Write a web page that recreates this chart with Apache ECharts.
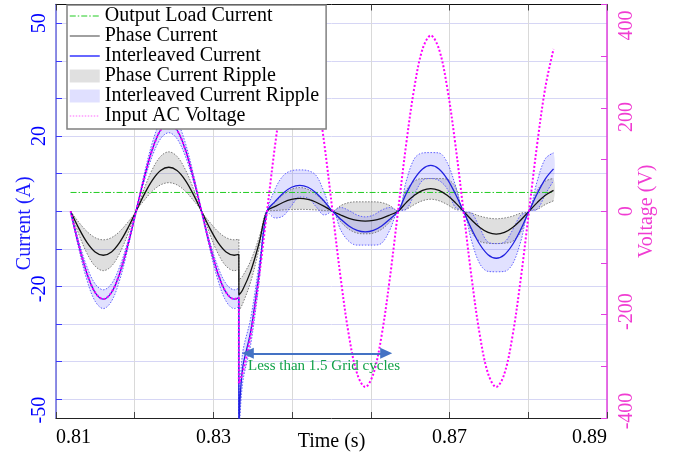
<!DOCTYPE html>
<html><head><meta charset="utf-8">
<script src="https://cdn.jsdelivr.net/npm/echarts@6/dist/echarts.min.js"></script>
<style>html,body{margin:0;padding:0;background:#fff}#c{width:679px;height:457px}</style>
</head><body><div id="c"></div>
<script>
// ---- data ----
const time = [0.81185,0.81289,0.81393,0.81497,0.81601,0.81705,0.81809,0.81913,0.82017,0.82121,0.82225,0.82329,0.82433,0.82537,0.82641,0.82745,0.82849,0.82953,0.83057,0.83161,0.83265,
0.83323,0.83323,
0.83369,0.83473,0.83577,0.83681,
0.83785,0.83889,0.83993,0.84097,0.84201,0.84305,0.84409,0.84513,
0.84617,0.84721,0.84825,0.84929,0.85033,0.85137,0.85241,0.85345,
0.85449,0.85553,0.85657,0.85761,0.85865,0.85969,0.86073,0.86177,
0.86281,0.86385,0.86489,0.86593,0.86697,0.86801,0.86905,0.87009,
0.87113,0.87217,0.87321];
const phaseCurrent = [0,-4.48,-8.27,-10.81,-11.7,-10.81,-8.27,-4.48,0,4.48,8.27,10.81,11.7,10.81,8.27,4.48,0,-4.48,-8.27,-10.81,-11.7,
-11.5,-22.3,
-21.0,-16.0,-8.7,0,
1.3,2.4,3.14,3.4,3.14,2.4,1.3,0,
-1.0,-1.87,-2.45,-2.65,-2.45,-1.87,-1.0,0,
2.3,4.24,5.54,6.0,5.54,4.24,2.3,0,
-2.34,-4.31,-5.64,-6.1,-5.64,-4.31,-2.34,0,
2.3,4.24,5.54];
const interleavedCurrent = [0,-8.96,-16.54,-21.62,-23.4,-21.62,-16.54,-8.96,0,8.96,16.54,21.62,23.4,21.62,16.54,8.96,0,-8.96,-16.54,-21.62,-23.4,
-22.96,-58,
-42,-32,-17,0,
2.64,4.88,6.38,6.9,6.38,4.88,2.64,0,
-2.1,-3.9,-5.1,-5.5,-5.1,-3.9,-2.1,0,
4.67,8.63,11.27,12.2,11.27,8.63,4.67,0,
-4.79,-8.84,-11.55,-12.5,-11.55,-8.84,-4.79,0,
4.67,8.63,11.27];
const inputVoltage = [0,-65,-120,-157,-170,-157,-120,-65,0,65,120,157,170,157,120,65,0,-65,-120,-157,-170,
-167,-333,
-314,-240,-130,0,
130,240,314,340,314,240,130,0,
-130,-240,-314,-340,-314,-240,-130,0,
130,240,314,340,314,240,130,0,
-130,-240,-314,-340,-314,-240,-130,0,
130,240,314];
const phaseRippleLow = [0,-6.05,-11.17,-14.6,-15.8,-14.6,-11.17,-6.05,0,2.91,5.37,7.02,7.6,7.02,5.37,2.91,0,-6.05,-11.17,-14.6,-15.8,
-15.5,-26.5,
-24.7,-18.8,-10.2,0,
0.19,0.35,0.46,0.5,0.46,0.35,0.19,0,
-2.8,-4.8,-5.8,-6.0,-5.8,-4.8,-2.8,0,
0.5,1.8,2.8,3.2,2.8,1.8,0.5,0,
-5.5,-8.0,-8.5,-8.6,-8.5,-8.0,-5.5,0,
0.5,1.8,2.8];
const phaseRippleHigh = [0,-2.91,-5.37,-7.02,-7.6,-7.02,-5.37,-2.91,0,6.05,11.17,14.6,15.8,14.6,11.17,6.05,0,-2.91,-5.37,-7.02,-7.6,
-7.46,-18.3,
-17.3,-13.2,-7.2,0,
2.41,4.45,5.82,6.3,5.82,4.45,2.41,0,
1.5,2.3,2.5,2.5,2.5,2.3,1.5,0,
5.5,8.0,8.7,8.7,8.7,8.5,6.5,0,
-0.5,-1.3,-1.8,-2.0,-1.8,-1.3,-0.5,0,
5.5,8.0,8.7];
const interRippleLow = [0,-9.92,-18.31,-23.93,-25.9,-23.93,-18.31,-9.92,0,8.0,14.78,19.31,20.9,19.31,14.78,8.0,0,-9.92,-18.31,-23.93,-25.9,
-25.41,-62,
-46,-35.5,-19.5,0,
-1.8,-1.2,1.5,3.8,3.5,1.2,-1.0,0,
-5,-8,-9,-9,-9,-8.5,-5,0,
0.5,4.5,8.2,8.7,8.2,6,1,0,
-8,-14,-16,-16.1,-16,-14,-8,0,
0.5,4.5,8.2];
const interRippleHigh = [0,-8.0,-14.78,-19.31,-20.9,-19.31,-14.78,-8.0,0,9.92,18.31,23.93,25.9,23.93,18.31,9.92,0,-8.0,-14.78,-19.31,-20.9,
-20.5,-54,
-38,-28.5,-14.5,0,
6,9.5,10.8,11,10.8,9.5,5,0,
1.0,0.2,-1.0,-1.5,-1.0,0.3,1.0,0,
8,14,15.5,15.6,15.5,13,7,0,
-0.5,-4.5,-8.2,-8.6,-8.2,-5,-1,0,
8,14,15.5];
const loadTime = [0.81185, 0.87321];
const loadCurrent = [5.0, 5.0];
const xTickLabels = ['0.81','','0.83','','','0.87','','0.89'];
const leftTickValues = [-50,-40,-30,-20,-10,0,10,20,30,40,50];
const leftLabelValues = [50,20,-20,-50];
const rightLabelValues = [400,200,0,-200,-400];
const arrowSpan = [0.83437, 0.85195];
const arrowLevel = -37.8;
const annotationText = 'Less than 1.5 Grid cycles';

// ---- styling ----
const FONT = 'Liberation Serif';
const leftLabelPad = {'50':[0,0,0,0], '20':[0,0,0,0], '-20':[0,5,0,0], '-50':[0,22,0,0]};
const rightLabelPad = {'400':[0,42,0,0], '200':[0,18,0,0], '0':[0,0,0,0], '-200':[0,0,0,6], '-400':[0,0,0,14]};
const LEFT_COLOR = '#0000ff', RIGHT_COLOR = '#f03cd2';
function richFor(values, pads, color) {
  const r = {};
  values.forEach((v, i) => { r['k' + i] = {fontFamily:FONT, fontSize:20, color, padding:pads[String(v)]}; });
  return r;
}

// ---- chart ----
const pairs = (xs, ys) => xs.map((x, i) => [x, ys[i]]);
const base = {type:'line', symbol:'none', showSymbol:false, smooth:0.35, silent:true, animation:false, xAxisIndex:0, yAxisIndex:0};
function bandFill(name, lo, hi, fill) {
  return {type:'custom', name, silent:true, animation:false, clip:true, xAxisIndex:0, yAxisIndex:0,
    itemStyle:{color:fill}, data:[[0.84, 0]],
    renderItem:(params, api) => {
      const top = hi.map((v, i) => api.coord([time[i], v]));
      const bot = lo.map((v, i) => api.coord([time[i], v])).reverse();
      return {type:'polygon', shape:{points: top.concat(bot), smooth:0.3}, style:{fill, stroke:null}};
    }};
}
const edge = (name, vals, color) => Object.assign({}, base, {name, data:pairs(time, vals),
  lineStyle:{color, width:1, type:[1.5,1.5]}});

const chart = echarts.init(document.getElementById('c'), null, {renderer:'canvas'});
chart.setOption({
  animation:false,
  backgroundColor:'#ffffff',
  grid:{left:56, right:72, top:4.5, bottom:39, containLabel:false, outerBoundsMode:'none'},
  legend:{
    orient:'vertical', left:67, top:5, padding:[1,7,3,2], itemGap:0, itemWidth:30, itemHeight:13,
    backgroundColor:'#ffffff', borderColor:'#808080', borderWidth:1.5, borderRadius:0,
    textStyle:{fontFamily:FONT, fontSize:20, color:'#000', lineHeight:19},
    selectedMode:false,
    data:[
      {name:'Output Load Current', itemStyle:{opacity:0}, lineStyle:{color:'#22cc22', width:1}},
      {name:'Phase Current', itemStyle:{opacity:0}, lineStyle:{color:'#808080', width:1.5}},
      {name:'Interleaved Current', itemStyle:{opacity:0}, lineStyle:{color:'#0000ff', width:1.2}},
      {name:'Phase Current Ripple', icon:'rect', itemStyle:{color:'#e0e0e0', borderWidth:0, opacity:1}},
      {name:'Interleaved Current Ripple', icon:'rect', itemStyle:{color:'#e0e0ff', borderWidth:0, opacity:1}},
      {name:'Input AC Voltage', itemStyle:{opacity:0}, lineStyle:{color:'#ff66ff', width:1, type:[1.5,1.5]}}
    ]
  },
  xAxis:[
    {type:'value', position:'bottom', min:0.81, max:0.88, interval:0.01,
     name:'Time (s)', nameLocation:'middle', nameGap:14, nameMoveOverlap:false,
     nameTextStyle:{fontFamily:FONT, fontSize:20, color:'#000'},
     axisLine:{show:true, onZero:false, lineStyle:{color:'#222', width:1}},
     axisTick:{show:true, inside:true, length:6, lineStyle:{color:'#444'}},
     axisLabel:{show:true, margin:10, fontFamily:FONT, fontSize:20, color:'#000',
       alignMinLabel:'left', alignMaxLabel:'right', showMinLabel:true, showMaxLabel:true, hideOverlap:false,
       formatter:(v)=>{const i=Math.round((v-0.81)/0.01); return xTickLabels[i]||'';}},
     splitLine:{show:true, lineStyle:{color:'#d9d9d9', width:1}}},
    {type:'value', position:'top', min:0.81, max:0.88, interval:0.01,
     axisLine:{show:true, onZero:false, lineStyle:{color:'#111', width:1}},
     axisTick:{show:true, inside:true, length:6, lineStyle:{color:'#444'}},
     axisLabel:{show:false}, splitLine:{show:false}}
  ],
  yAxis:[
    {type:'value', position:'left', min:-55, max:55,
     name:'Current (A)', nameLocation:'middle', nameGap:21, nameMoveOverlap:false,
     nameTextStyle:{fontFamily:FONT, fontSize:20, color:'#1a1aff', padding:[0,24,0,0]},
     axisLine:{show:true, onZero:false, lineStyle:{color:'#6a6ae0', width:1.5}},
     axisTick:{show:true, inside:true, length:6, lineStyle:{color:'#3a3aff'}, customValues:leftTickValues},
     axisLabel:{show:true, rotate:90, margin:6, fontFamily:FONT, fontSize:20, color:LEFT_COLOR, customValues:leftLabelValues, hideOverlap:false,
       formatter:(v)=>{const i=leftLabelValues.indexOf(Math.round(v)); return i>=0?('{k'+i+'|'+leftLabelValues[i]+'}'):'';},
       rich:richFor(leftLabelValues, leftLabelPad, LEFT_COLOR)},
     splitLine:{show:true, lineStyle:{color:'#d6d6f5', width:1}}},
    {type:'value', position:'right', min:-400, max:400, interval:100,
     name:'Voltage (V)', nameLocation:'middle', nameGap:30, nameMoveOverlap:false,
     nameTextStyle:{fontFamily:FONT, fontSize:20, color:RIGHT_COLOR},
     axisLine:{show:true, onZero:false, lineStyle:{color:'#e040e0', width:1.5}},
     axisTick:{show:true, inside:true, length:6, lineStyle:{color:'#e040e0'}},
     axisLabel:{show:true, rotate:90, margin:10, fontFamily:FONT, fontSize:20, color:RIGHT_COLOR, hideOverlap:false,
       formatter:(v)=>{const i=rightLabelValues.indexOf(Math.round(v)); return i>=0?('{k'+i+'|'+rightLabelValues[i]+'}'):'';},
       rich:richFor(rightLabelValues, rightLabelPad, RIGHT_COLOR)},
     splitLine:{show:false}}
  ],
  series:[
    bandFill('Phase Current Ripple', phaseRippleLow, phaseRippleHigh, 'rgba(128,128,128,0.25)'),
    bandFill('Interleaved Current Ripple', interRippleLow, interRippleHigh, 'rgba(80,80,255,0.17)'),
    edge('prLo', phaseRippleLow, '#7a7a7a'),
    edge('prHi', phaseRippleHigh, '#7a7a7a'),
    edge('irLo', interRippleLow, '#6060ff'),
    edge('irHi', interRippleHigh, '#6060ff'),
    Object.assign({}, base, {name:'Output Load Current', data:pairs(loadTime, loadCurrent), smooth:false,
      lineStyle:{color:'#22cc22', width:1, type:[6,2,1.5,2]}}),
    Object.assign({}, base, {name:'Phase Current', data:pairs(time, phaseCurrent),
      lineStyle:{color:'#111111', width:1.3}}),
    Object.assign({}, base, {name:'Interleaved Current', data:pairs(time, interleavedCurrent),
      lineStyle:{color:'#2020e0', width:1.3},
      markLine:{silent:true, animation:false, symbol:['triangle','triangle'], symbolSize:[11,12],
        lineStyle:{color:'#4472c4', width:2, type:'solid'},
        label:{show:true, position:'insideMiddleBottom', distance:5, formatter:annotationText, padding:[0,0,0,14],
          color:'#12a14a', fontFamily:FONT, fontSize:15},
        data:[[{coord:[arrowSpan[0], arrowLevel]}, {coord:[arrowSpan[1], arrowLevel]}]]}}),
    Object.assign({}, base, {name:'Input AC Voltage', yAxisIndex:1, data:pairs(time, inputVoltage),
      lineStyle:{color:'#ff00ff', width:2, type:[2,2]}})
  ]
});
</script></body></html>
